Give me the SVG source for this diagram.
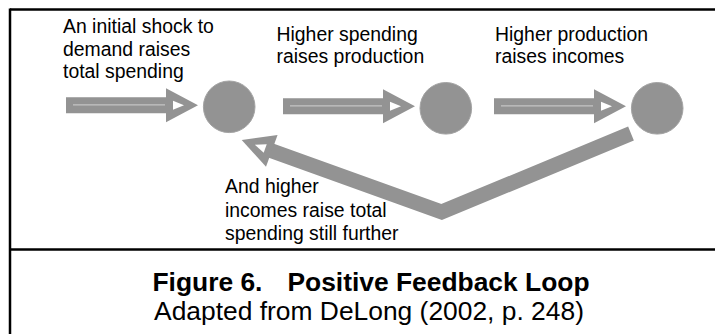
<svg xmlns="http://www.w3.org/2000/svg" width="715" height="334" viewBox="0 0 715 334">
<style>
.frame{stroke:#000;stroke-width:2.5;fill:none}
.node{fill:#939393;stroke:#a4a4a4;stroke-width:1}
.ah{fill:#939393;stroke:none}
.hole{fill:#fff}
.mid{stroke:#c4c4c4;stroke-width:1.2}
.shaft{fill:none;stroke:#939393;stroke-width:15;stroke-linejoin:miter}
.lbl{font-family:"Liberation Sans",Arial,sans-serif;font-size:19.4px;fill:#000}
.cap{font-family:"Liberation Sans",Arial,sans-serif;font-size:26.4px;fill:#000;text-anchor:middle}
</style>
<rect width="715" height="334" fill="#fff"/>
<g id="frame">
<line class="frame" x1="10" y1="9.5" x2="715" y2="9.5"/>
<line class="frame" x1="10" y1="8.5" x2="10" y2="334"/>
<line class="frame" x1="10" y1="249.5" x2="715" y2="249.5"/>
</g>
<g id="connectors">
<g id="arrow1" transform="translate(198,105.3)">
<polygon class="ah" points="-132,-8 -32,-8 -32,-17 0,0 -32,17 -32,8 -132,8"/>
<line class="mid" x1="-125" y1="-0.5" x2="-33" y2="-0.5"/>
<polygon class="hole" points="-25,-4.5 -14,0 -25,4.5"/>
</g>
<g id="arrow2" transform="translate(415,106.3)">
<polygon class="ah" points="-132,-8 -32,-8 -32,-17 0,0 -32,17 -32,8 -132,8"/>
<line class="mid" x1="-125" y1="-0.5" x2="-33" y2="-0.5"/>
<polygon class="hole" points="-25,-4.5 -14,0 -25,4.5"/>
</g>
<g id="arrow3" transform="translate(626,106.3)">
<polygon class="ah" points="-132,-8 -32,-8 -32,-17 0,0 -32,17 -32,8 -132,8"/>
<line class="mid" x1="-125" y1="-0.5" x2="-33" y2="-0.5"/>
<polygon class="hole" points="-25,-4.5 -14,0 -25,4.5"/>
</g>
<g id="feedback">
<polyline class="shaft" points="631,133.5 441.7,212 270,150.3"/>
<g transform="translate(241.7,140) rotate(199.86)">
<polygon class="ah" points="-32,-17 0,0 -32,17"/>
<polygon class="hole" points="-25,-4.5 -14,0 -25,4.5"/>
</g>
</g>
</g>
<g id="node1"><circle class="node" cx="229.2" cy="106.8" r="25.8"/></g>
<g id="node2"><circle class="node" cx="445.8" cy="108.3" r="25.8"/></g>
<g id="node3"><circle class="node" cx="657.2" cy="108.3" r="25.8"/></g>
<g id="labels">
<text class="lbl" x="63" y="32.7">An initial shock to</text>
<text class="lbl" x="63" y="55.5">demand raises</text>
<text class="lbl" x="63" y="78.3">total spending</text>
<text class="lbl" x="276.5" y="40.5">Higher spending</text>
<text class="lbl" x="276.5" y="63.3">raises production</text>
<text class="lbl" x="495" y="40.5">Higher production</text>
<text class="lbl" x="495" y="63.3">raises incomes</text>
<text class="lbl" x="225" y="193.3">And higher</text>
<text class="lbl" x="225" y="216.6">incomes raise total</text>
<text class="lbl" x="225" y="239.9">spending still further</text>
</g>
<g id="caption">
<text class="cap" x="371" y="291.3" font-weight="bold">Figure 6.<tspan dx="25">Positive Feedback Loop</tspan></text>
<text class="cap" x="369" y="320.3">Adapted from DeLong (2002, p. 248)</text>
</g>
</svg>
